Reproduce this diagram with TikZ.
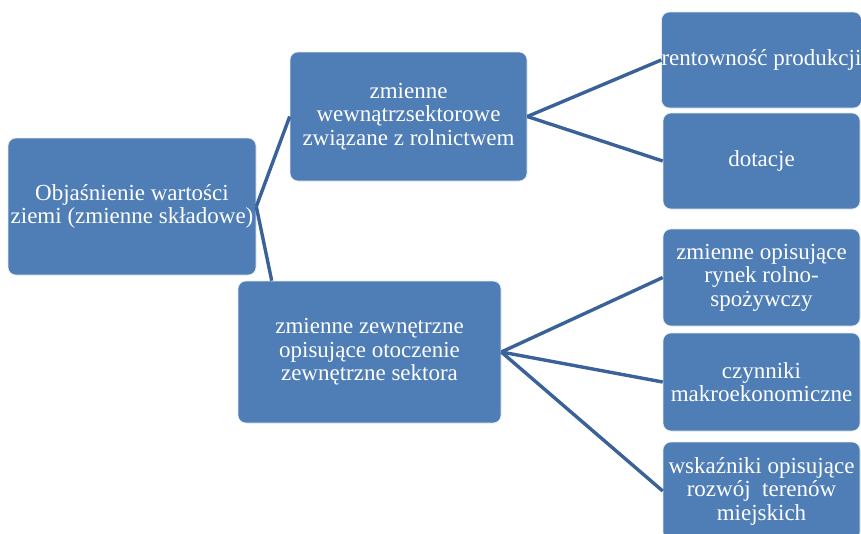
\documentclass[tikz,border=0pt]{standalone}
\usepackage{fontspec}
\setmainfont{Liberation Serif}
\usetikzlibrary{calc}
\definecolor{boxblue}{HTML}{4F7DB6}
\definecolor{lineblue}{HTML}{3A6298}
\begin{document}
\begin{tikzpicture}[x=1pt,y=-1pt,
  box/.style={fill=boxblue, draw=white!85!boxblue, line width=0.6pt, rounded corners=8pt,
    text=white, align=center, inner sep=0pt,
    font=\fontsize{23}{23.5}\selectfont},
  conn/.style={draw=lineblue, line width=3.4pt}]
\useasboundingbox (0,0) rectangle (861,533);
\clip (0,0) rectangle (861,533);
\node[box, minimum width=248, minimum height=137] (root) at (132,206.5)
  {Objaśnienie wartości\\ziemi (zmienne składowe)};
\node[box, minimum width=237, minimum height=129] (mid1) at (408.5,116.5)
  {zmienne\\wewnątrzsektorowe\\związane z rolnictwem};
\node[box, minimum width=263, minimum height=142] (mid2) at (369.5,352)
  {zmienne zewnętrzne\\opisujące otoczenie\\zewnętrzne sektora};
\node[box, minimum width=197, minimum height=96] (r1) at (761.5,60)
  {rentowność produkcji};
\node[box, minimum width=197, minimum height=96] (r2) at (761.5,161)
  {dotacje};
\node[box, minimum width=197, minimum height=97] (r3) at (761.5,277.5)
  {zmienne opisujące\\rynek rolno-\\spożywczy};
\node[box, minimum width=197, minimum height=98] (r4) at (761.5,382)
  {czynniki\\makroekonomiczne};
\node[box, minimum width=197, minimum height=98] (r5) at (761.5,491)
  {wskaźniki opisujące\\rozwój\ \ terenów\\miejskich};
\coordinate (b1) at ($(mid2.north west)+(34,0)$);
\draw[conn] (root.east) -- (mid1.west);
\draw[conn] (root.east) -- (b1);
\draw[conn] (mid1.east) -- (r1.west);
\draw[conn] (mid1.east) -- (r2.west);
\draw[conn] (mid2.east) -- (r3.west);
\draw[conn] (mid2.east) -- (r4.west);
\draw[conn] (mid2.east) -- (r5.west);
\end{tikzpicture}
\end{document}
